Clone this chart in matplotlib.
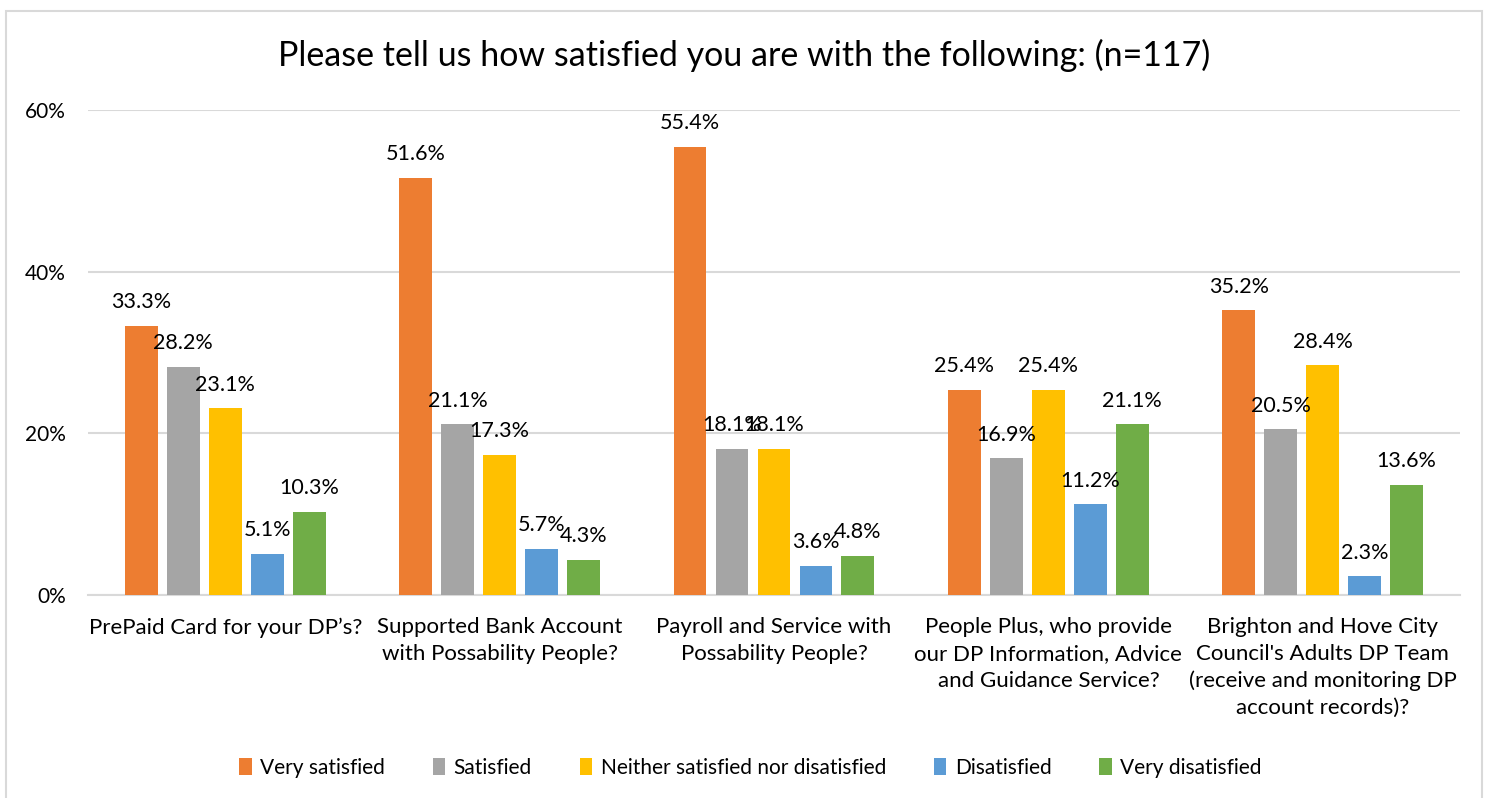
import numpy as np
import matplotlib.pyplot as plt
from matplotlib.patches import Rectangle
from matplotlib.ticker import FuncFormatter

plt.rcParams['font.family'] = ['Lato', 'DejaVu Sans']

categories = [
    "PrePaid Card for your DP\u2019s?",
    "Supported Bank Account\nwith Possability People?",
    "Payroll and Service with\nPossability People?",
    "People Plus, who provide\nour DP Information, Advice\nand Guidance Service?",
    "Brighton and Hove City\nCouncil's Adults DP Team\n(receive and monitoring DP\naccount records)?",
]
series = ["Very satisfied", "Satisfied", "Neither satisfied nor disatisfied",
          "Disatisfied", "Very disatisfied"]
very_satisfied = [33.3, 51.6, 55.4, 25.4, 35.2]
satisfied = [28.2, 21.1, 18.1, 16.9, 20.5]
neither = [23.1, 17.3, 18.1, 25.4, 28.4]
disatisfied = [5.1, 5.7, 3.6, 11.2, 2.3]
very_disatisfied = [10.3, 4.3, 4.8, 21.1, 13.6]
yticks = [0, 20, 40, 60]

values = [very_satisfied, satisfied, neither, disatisfied, very_disatisfied]
colors = ["#ED7D31", "#A5A5A5", "#FFC000", "#5B9BD5", "#70AD47"]

fig = plt.figure(figsize=(14.89, 7.98), dpi=100)
ax = fig.add_axes([0.0591, 0.2544, 0.9214, 0.6078])

x = np.arange(len(categories))
step = 0.153
width = 0.12
for i, (name, vals, col) in enumerate(zip(series, values, colors)):
    pos = x + (i - 2) * step
    ax.bar(pos, np.array(vals) / 100, width=width, color=col, label=name, zorder=3)
    for px, v in zip(pos, vals):
        ax.text(px, v / 100 + 0.017, f"{v:.1f}%", ha="center", va="bottom",
                fontsize=15.5, color="#000000", zorder=4)

ax.set_xlim(-0.5, len(categories) - 0.5)
ax.set_ylim(0, 0.6)
ax.set_yticks([t / 100 for t in yticks])
ax.yaxis.set_major_formatter(FuncFormatter(lambda v, p: f"{v * 100:.0f}%"))
ax.set_xticks(x)
ax.set_xticklabels(categories, fontsize=16, linespacing=1.42, va="top")
ax.tick_params(axis="both", length=0)
ax.tick_params(axis="y", labelsize=15, pad=16)
ax.tick_params(axis="x", pad=16)
ax.grid(axis="y", color="#D9D9D9", linewidth=1.5, zorder=0)
for s in ["top", "right", "left"]:
    ax.spines[s].set_visible(False)
ax.spines["bottom"].set_color("#D9D9D9")
ax.spines["bottom"].set_linewidth(1.5)

fig.text(0.5, 0.931, "Please tell us how satisfied you are with the following: (n=117)",
         ha="center", va="center", fontsize=24.5)

fig.legend(loc="center", bbox_to_anchor=(0.504, 0.0376), ncol=5, frameon=False,
           fontsize=15, handlelength=0.6, handleheight=0.9, handletextpad=0.4,
           columnspacing=2.3)

# outer chart frame
fig.patches.append(Rectangle((0.004, -0.01), 0.991, 0.996, transform=fig.transFigure,
                             fill=False, edgecolor="#D9D9D9", linewidth=1.5))

fig.savefig("out.png", dpi=100)
